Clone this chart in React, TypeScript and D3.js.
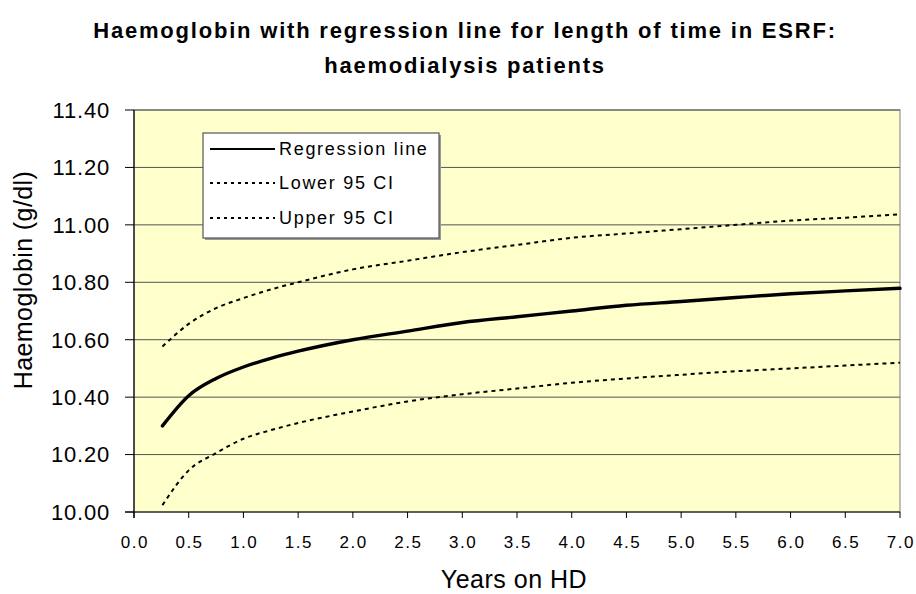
import React from "react";
import * as d3 from "d3";

const xTicks = [0, 0.5, 1, 1.5, 2, 2.5, 3, 3.5, 4, 4.5, 5, 5.5, 6, 6.5, 7];
const yTicks = [10.0, 10.2, 10.4, 10.6, 10.8, 11.0, 11.2, 11.4];

const years = [0.26, 0.5, 0.75, 1.0, 1.25, 1.5, 2.0, 2.5, 3.0, 3.5, 4.0, 4.5, 5.0, 5.5, 6.0, 6.5, 7.0];
const regression = [10.30, 10.405, 10.465, 10.505, 10.535, 10.56, 10.60, 10.63, 10.66, 10.68, 10.70, 10.72, 10.733, 10.747, 10.76, 10.77, 10.779];
const lower95 = [10.024, 10.145, 10.205, 10.255, 10.285, 10.31, 10.35, 10.385, 10.41, 10.43, 10.45, 10.465, 10.478, 10.49, 10.50, 10.51, 10.52];
const upper95 = [10.576, 10.655, 10.71, 10.745, 10.775, 10.80, 10.845, 10.875, 10.905, 10.93, 10.955, 10.97, 10.985, 11.0, 11.015, 11.025, 11.037];

const legendItems = ["Regression line", "Lower 95 CI", "Upper 95 CI"];

export default function App() {
  const W = 916, H = 594;
  const L = 134, R = 900, T = 110, B = 512;
  const x = d3.scaleLinear().domain([0, 7]).range([L, R]);
  const y = d3.scaleLinear().domain([10, 11.4]).range([B, T]);
  const line = (vals: number[]) =>
    d3.line<number>().x((_, i) => x(years[i])).y((d) => y(d)).curve(d3.curveMonotoneX)(vals) || "";
  const font = "Liberation Sans, Arial, sans-serif";
  const legendY = [149, 183, 218];

  return (
    <svg width={W} height={H} style={{ position: "absolute", left: 0, top: 0, background: "#fff" }} fontFamily={font}>
      <text x={465} y={38} textAnchor="middle" fontSize={22} fontWeight="bold" letterSpacing={1.8} fill="#000">
        Haemoglobin with regression line for length of time in ESRF:
      </text>
      <text x={465} y={73} textAnchor="middle" fontSize={22} fontWeight="bold" letterSpacing={1.8} fill="#000">
        haemodialysis patients
      </text>

      <rect x={L} y={T} width={R - L} height={B - T} fill="#FFFFCC" stroke="#808080" strokeWidth={1} />
      {yTicks.map((t) => (
        <g key={t}>
          {t > 10 && <line x1={L} x2={R} y1={y(t)} y2={y(t)} stroke="#555" strokeWidth={1} />}
          <line x1={L - 9} x2={L} y1={y(t)} y2={y(t)} stroke="#000" strokeWidth={1} />
          <text x={110} y={y(t)} dy="0.36em" textAnchor="end" fontSize={22} letterSpacing={0.8} fill="#000">
            {t.toFixed(2)}
          </text>
        </g>
      ))}
      <line x1={L} x2={L} y1={T} y2={B + 6} stroke="#000" strokeWidth={1.2} />
      <line x1={L - 9} x2={R} y1={B} y2={B} stroke="#000" strokeWidth={1.2} />
      {xTicks.map((t) => (
        <g key={t}>
          <line x1={x(t)} x2={x(t)} y1={B} y2={B + 6} stroke="#000" strokeWidth={1} />
          <text x={x(t) + 0.8} y={542} dy="0.36em" textAnchor="middle" fontSize={17} letterSpacing={1.5} fill="#000">
            {t.toFixed(1)}
          </text>
        </g>
      ))}

      <path d={line(lower95)} fill="none" stroke="#000" strokeWidth={2} strokeDasharray="4,4" />
      <path d={line(upper95)} fill="none" stroke="#000" strokeWidth={2} strokeDasharray="4,4" />
      <path d={line(regression)} fill="none" stroke="#000" strokeWidth={3.4} strokeLinejoin="round" strokeLinecap="round" />

      <text transform={`translate(32,280) rotate(-90)`} textAnchor="middle" fontSize={25} letterSpacing={0.4} fill="#000">
        Haemoglobin (g/dl)
      </text>
      <text x={514} y={588} textAnchor="middle" fontSize={25} letterSpacing={0.5} fill="#000">
        Years on HD
      </text>

      <rect x={205} y={135} width={236} height={105} fill="#999" />
      <rect x={203} y={133} width={236} height={105} fill="#fff" stroke="#555" strokeWidth={1.2} />
      {legendItems.map((name, i) => (
        <g key={name}>
          <line x1={210} x2={275} y1={legendY[i]} y2={legendY[i]} stroke="#000"
            strokeWidth={2} strokeDasharray={i === 0 ? undefined : "3,4"} />
          <text x={279} y={legendY[i]} dy="0.36em" fontSize={18} letterSpacing={1.7} fill="#000">
            {name}
          </text>
        </g>
      ))}
    </svg>
  );
}
